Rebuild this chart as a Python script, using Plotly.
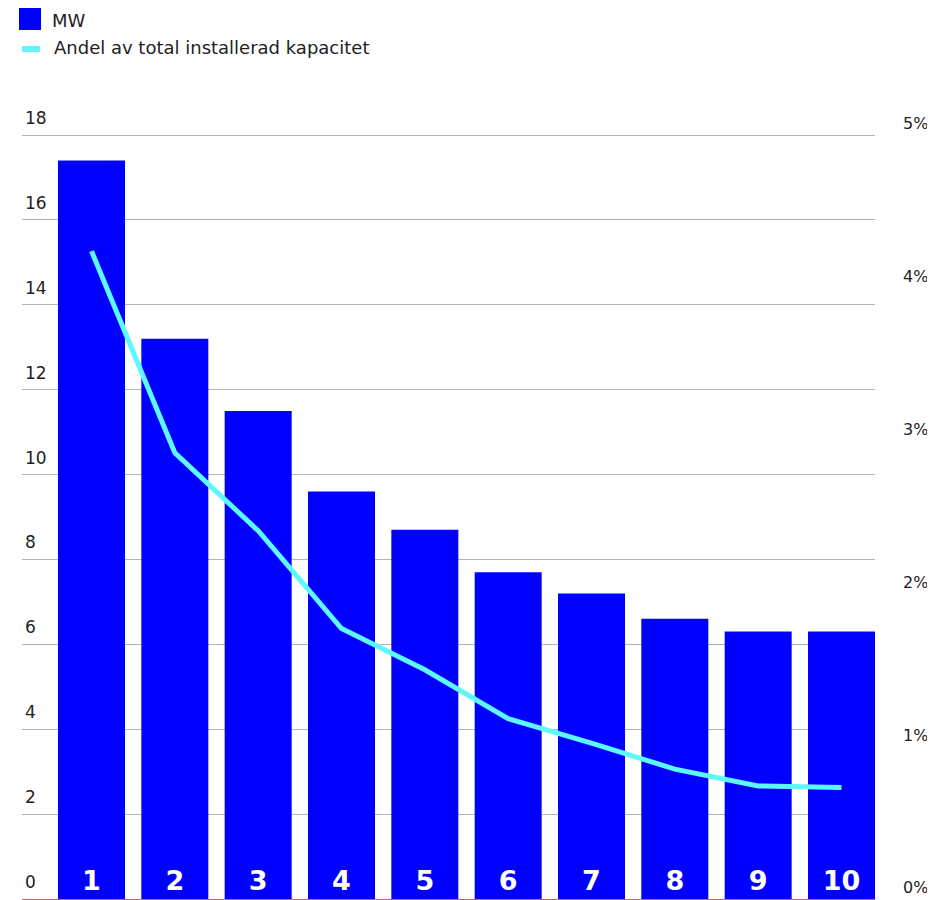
import plotly.graph_objects as go

categories = ["1", "2", "3", "4", "5", "6", "7", "8", "9", "10"]
mw = [17.4, 13.2, 11.5, 9.6, 8.7, 7.7, 7.2, 6.6, 6.3, 6.3]
share_pct = [4.24, 2.92, 2.41, 1.77, 1.50, 1.18, 1.02, 0.85, 0.74, 0.73]
left_ticks = [0, 2, 4, 6, 8, 10, 12, 14, 16, 18]
right_ticks = [0, 1, 2, 3, 4, 5]
right_ticktext = ["0%", "1%", "2%", "3%", "4%", "5%"]
legend_bar = "MW"
legend_line = "Andel av total installerad kapacitet"

BLUE = "#0000FF"
CYAN = "#5CF7FF"
FONT = "DejaVu Sans"
TXT = "#222222"

OFF = 8  # default body margin of the page
W, H = 935 - OFF, 900 - OFF
ML, MR, MT, MB = 22 - OFF, 60, 75, 1
PW = W - ML - MR
PH = H - MT - MB
GRID_SPAN = (899 - 135)  # pixels between 0 and 18
YTOP = 18 * PH / GRID_SPAN
Y2TOP = 5 * PH / GRID_SPAN


def px(x):
    return (x - OFF - ML) / PW


def py(y):
    return (H - MB - (y - OFF)) / PH


fig = go.Figure()
fig.add_trace(go.Bar(
    x=categories, y=mw, name=legend_bar,
    marker=dict(color=BLUE, line=dict(width=0)),
    text=categories, textposition="inside", insidetextanchor="start",
    textfont=dict(family=FONT, size=27, color="white", weight="bold"),
    constraintext="none",
    hoverinfo="x+y", showlegend=False,
))
fig.add_trace(go.Scatter(
    x=categories, y=share_pct, name=legend_line, yaxis="y2",
    mode="lines", line=dict(color=CYAN, width=5),
    showlegend=False,
))

fig.update_layout(
    width=W, height=H,
    margin=dict(l=ML, r=MR, t=MT, b=MB),
    paper_bgcolor="white", plot_bgcolor="white",
    bargap=0.196,
    font=dict(family=FONT, size=17, color=TXT),
    xaxis=dict(
        type="category", range=[-0.834, 9.402],
        showticklabels=False, ticks="", showgrid=False,
        showline=True, linecolor="#C86464", linewidth=1, zeroline=False,
    ),
    yaxis=dict(
        range=[0, YTOP], tickvals=left_ticks, ticks="",
        showgrid=True, gridcolor="#B4B4B4", gridwidth=1,
        zeroline=False, showline=False,
        ticklabelposition="inside top", ticklabelshift=-5,
        tickfont=dict(family=FONT, size=17, color=TXT),
    ),
    yaxis2=dict(
        range=[0, Y2TOP], tickvals=right_ticks, ticktext=right_ticktext,
        overlaying="y", side="right", showgrid=False, zeroline=False,
        showline=False, ticks="",
        ticklabelposition="outside top", ticklabelstandoff=27,
        tickfont=dict(family=FONT, size=16, color=TXT),
    ),
    shapes=[
        dict(type="rect", xref="paper", yref="paper",
             x0=px(19), x1=px(41), y0=py(30), y1=py(8),
             fillcolor=BLUE, line=dict(width=0)),
        dict(type="line", xref="paper", yref="paper",
             x0=px(22), x1=px(40), y0=py(49), y1=py(49),
             line=dict(color=CYAN, width=6)),
    ],
    annotations=[
        dict(text=legend_bar, xref="paper", yref="paper", x=px(50), y=py(20),
             xanchor="left", yanchor="middle", showarrow=False,
             font=dict(family=FONT, size=18, color=TXT)),
        dict(text=legend_line, xref="paper", yref="paper", x=px(52), y=py(48),
             xanchor="left", yanchor="middle", showarrow=False,
             font=dict(family=FONT, size=18, color=TXT)),
    ],
)

fig.write_html("out.html")
